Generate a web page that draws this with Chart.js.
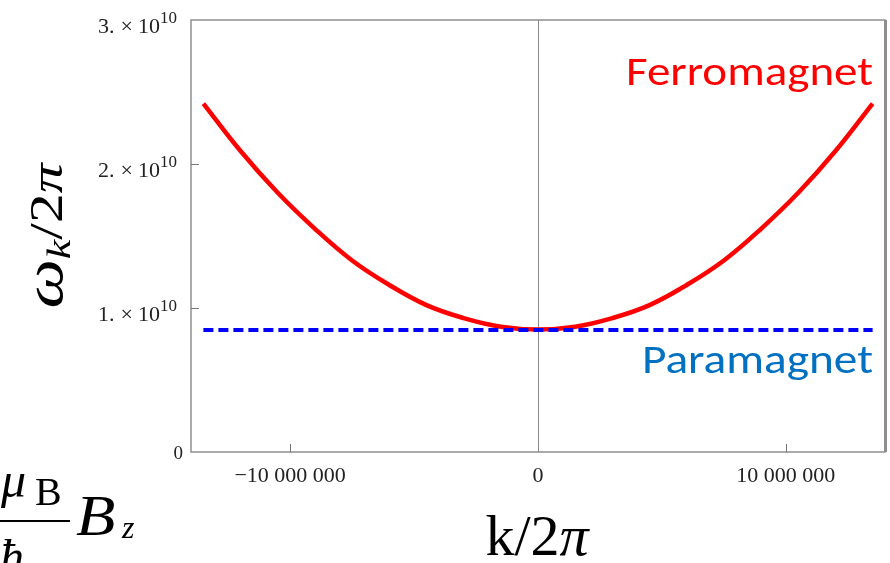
<!DOCTYPE html>
<html>
<head>
<meta charset="utf-8">
<script src="https://cdn.jsdelivr.net/npm/chart.js@4/dist/chart.umd.min.js"></script>
<style>
    html, body { margin: 0; padding: 0; background: #fff; }
    #wrap { width: 890px; height: 563px; position: relative; }
</style>
</head>
<body>
<div id="wrap"><canvas id="magnonChart" width="890" height="563"></canvas></div>
<script>
// --- DATA ---
const kValues = [-13.5e6, -12e6, -10.5e6, -9e6, -7.5e6, -6e6, -4.5e6, -3e6, -1.5e6, 0,
                 1.5e6, 3e6, 4.5e6, 6e6, 7.5e6, 9e6, 10.5e6, 12e6, 13.5e6];
const ferroValues = [2.42e10, 2.09e10, 1.80e10, 1.55e10, 1.33e10, 1.16e10, 1.02e10, 0.93e10, 0.87e10, 0.85e10,
                     0.87e10, 0.93e10, 1.02e10, 1.16e10, 1.33e10, 1.55e10, 1.80e10, 2.09e10, 2.42e10];
const paraValues = [0.847e10, 0.847e10, 0.847e10, 0.847e10, 0.847e10, 0.847e10, 0.847e10, 0.847e10, 0.847e10, 0.847e10,
                    0.847e10, 0.847e10, 0.847e10, 0.847e10, 0.847e10, 0.847e10, 0.847e10, 0.847e10, 0.847e10];

const xTicks = [-1e7, 0, 1e7];
const xTickLabels = ['\u221210 000 000', '0', '10 000 000'];
const yTicks = [0, 1e10, 2e10, 3e10];
const yTickMant = ['0', '1.', '2.', '3.'];

const toPoints = (xs, ys) => xs.map((x, i) => ({ x: x, y: ys[i] }));

// --- DRAWING HELPERS ---
function drawRuns(ctx, runs, x, y) {
    // runs: [text, font, dy]
    let cx = x;
    runs.forEach(r => {
        ctx.font = r[1];
        ctx.fillText(r[0], cx, y + (r[2] || 0));
        cx += ctx.measureText(r[0]).width;
    });
    return cx - x;
}
function runsWidth(ctx, runs) {
    let w = 0;
    runs.forEach(r => { ctx.font = r[1]; w += ctx.measureText(r[0]).width; });
    return w;
}
// right-aligned pieces, p.gap = space left of the piece
function drawRight(ctx, pieces, right, base) {
    let cx = right;
    for (let i = pieces.length - 1; i >= 0; i--) {
        const p = pieces[i];
        ctx.font = p.font;
        cx -= ctx.measureText(p.t).width;
        ctx.fillText(p.t, cx, base + (p.dy || 0));
        cx -= (p.gap || 0);
    }
}

const serif = '"Liberation Serif", "DejaVu Serif", serif';

const decorPlugin = {
    id: 'decor',
    beforeDatasetsDraw(chart) {
        const { ctx, chartArea: a, scales: { x } } = chart;
        ctx.save();
        const x0 = Math.round(x.getPixelForValue(0)) + 0.5;
        ctx.strokeStyle = '#8a8a8a';
        ctx.lineWidth = 1;
        ctx.beginPath(); ctx.moveTo(x0, a.top); ctx.lineTo(x0, a.bottom); ctx.stroke();
        ctx.restore();
    },
    afterDraw(chart) {
        const { ctx, chartArea: a, scales: { x, y } } = chart;
        ctx.save();
        // frame
        ctx.strokeStyle = '#8e8e8e';
        ctx.lineWidth = 1.5;
        ctx.strokeRect(a.left, a.top, a.right - a.left, a.bottom - a.top);
        ctx.lineWidth = 3;
        ctx.beginPath(); ctx.moveTo(a.right + 0.5, a.top); ctx.lineTo(a.right + 0.5, a.bottom); ctx.stroke();
        // ticks (inward)
        ctx.lineWidth = 1;
        ctx.strokeStyle = '#777';
        yTicks.slice(1, 3).forEach(v => {
            const py = Math.round(y.getPixelForValue(v)) + 0.5;
            ctx.beginPath(); ctx.moveTo(a.left, py); ctx.lineTo(a.left + 8, py); ctx.stroke();
        });
        xTicks.forEach(v => {
            if (v === 0) return;
            const px = Math.round(x.getPixelForValue(v)) + 0.5;
            ctx.beginPath(); ctx.moveTo(px, a.bottom); ctx.lineTo(px, a.bottom - 8); ctx.stroke();
        });

        ctx.fillStyle = '#222';
        ctx.textBaseline = 'alphabetic';
        ctx.textAlign = 'left';
        // y tick labels
        yTicks.forEach((v, i) => {
            const py = y.getPixelForValue(v);
            if (v === 0) {
                ctx.font = '19px ' + serif;
                ctx.textAlign = 'right';
                ctx.fillText('0', 183, py + 7);
                ctx.textAlign = 'left';
                return;
            }
            drawRight(ctx, [
                { t: yTickMant[i], font: '22px ' + serif },
                { t: '\u00d7', font: '22px ' + serif, gap: 6 },
                { t: '10', font: '22px ' + serif, gap: 5 },
                { t: '10', font: '17px ' + serif, dy: -10 }
            ], 177, py + 13);
        });
        // x tick labels
        ctx.font = '22px ' + serif;
        ctx.textAlign = 'center';
        xTicks.forEach((v, i) => {
            ctx.fillText(xTickLabels[i], x.getPixelForValue(v), 482);
        });

        // x title
        ctx.fillStyle = '#000';
        ctx.textAlign = 'left';
        const xt = [['k/2', '58px ' + serif, 0], ['\u03c0', 'italic 58px ' + serif, 0]];
        const xtw = runsWidth(ctx, xt);
        drawRuns(ctx, xt, 537 - xtw / 2, 555);

        // y title (rotated)
        const yt = [['\u03c9', 'italic 54px ' + serif, 0], ['k', 'italic 34px ' + serif, 8],
                    ['/2', '46px ' + serif, 0], ['\u03c0', 'italic 46px ' + serif, 0]];
        const ytw = runsWidth(ctx, yt);
        ctx.save();
        ctx.translate(62, 236);
        ctx.rotate(-Math.PI / 2);
        ctx.scale(145 / ytw, 1);
        drawRuns(ctx, yt, -ytw / 2, 0);
        ctx.restore();

        // mu_B / hbar  B_z (partly cut at left)
        ctx.font = 'italic 50px ' + serif;
        ctx.fillText('\u03bc', 1, 497);
        ctx.font = '40px ' + serif;
        ctx.fillText('B', 35, 505);
        ctx.fillRect(0, 520, 70, 2);
        ctx.font = 'italic 48px ' + serif;
        ctx.fillText('\u0127', 0, 573);
        ctx.save();
        ctx.font = 'italic 56px ' + serif;
        ctx.translate(76, 535);
        ctx.scale(1.15, 1);
        ctx.fillText('B', 0, 0);
        ctx.restore();
        ctx.font = 'italic 32px ' + serif;
        ctx.fillText('z', 122, 538);

        // series labels
        const label = (txt, color, right, base, width) => {
            ctx.font = '40px Calibri, Carlito, "Open Sans", sans-serif';
            const w = ctx.measureText(txt).width;
            ctx.save();
            ctx.fillStyle = color;
            ctx.translate(right - width, base);
            ctx.scale(width / w, 1);
            ctx.fillText(txt, 0, 0);
            ctx.restore();
        };
        label('Ferromagnet', '#ff0000', 873, 85, 247);
        label('Paramagnet', '#0070c0', 873, 373, 231);
        ctx.restore();
    }
};

new Chart(document.getElementById('magnonChart'), {
    type: 'scatter',
    data: {
        datasets: [
            {
                label: 'Ferromagnet',
                data: toPoints(kValues, ferroValues),
                showLine: true,
                borderColor: '#ff0000',
                borderWidth: 4.5,
                pointRadius: 0,
                tension: 0.4,
                order: 2
            },
            {
                label: 'Paramagnet',
                data: toPoints(kValues, paraValues),
                showLine: true,
                borderColor: '#0000ff',
                borderWidth: 4,
                borderDash: [10, 5],
                pointRadius: 0,
                order: 1
            }
        ]
    },
    options: {
        responsive: false,
        animation: false,
        layout: { padding: { left: 191, right: 5, top: 20, bottom: 111 } },
        plugins: { legend: { display: false }, tooltip: { enabled: false } },
        scales: {
            x: { type: 'linear', min: -1.4e7, max: 1.4e7, display: false },
            y: { type: 'linear', min: 0, max: 3e10, display: false }
        }
    },
    plugins: [decorPlugin]
});
</script>
</body>
</html>
